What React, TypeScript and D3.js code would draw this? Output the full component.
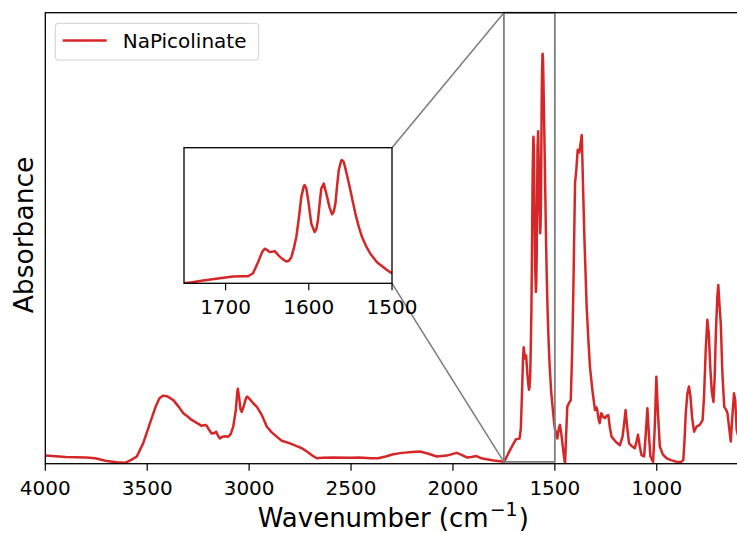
import React from "react";
import * as d3 from "d3";

const seriesName = "NaPicolinate";

const wavenumber = [
  4000, 3900, 3800, 3755, 3700, 3650, 3609, 3580, 3551, 3520, 3490, 3460, 3440, 3421, 3400, 3372, 3345, 3323, 3300, 3282,
  3255, 3233, 3215, 3208, 3195, 3184, 3170, 3162, 3150, 3143, 3130, 3118, 3102, 3090, 3078, 3065, 3058, 3055, 3050, 3042,
  3036, 3025, 3015, 3009, 2995, 2980, 2962, 2940, 2913, 2890, 2865, 2840, 2800, 2766, 2740, 2717, 2690, 2668, 2640, 2588,
  2500, 2464, 2400, 2367, 2330, 2293, 2250, 2200, 2162, 2120, 2080, 2030, 1982, 1960, 1933, 1910, 1884, 1860, 1835, 1800,
  1760, 1750, 1740, 1727, 1707, 1691, 1680, 1673, 1667, 1661, 1656, 1653, 1650, 1647, 1641, 1635, 1630, 1627, 1624, 1621,
  1618, 1615, 1612, 1609, 1606, 1605, 1603, 1601, 1597, 1593, 1591, 1589, 1587, 1585, 1582, 1578, 1575, 1572, 1570, 1568,
  1566, 1564, 1561, 1560, 1558, 1556, 1553, 1550, 1547, 1544, 1540, 1536, 1531, 1526, 1522, 1518, 1513, 1508, 1504, 1500,
  1494, 1488, 1480, 1475, 1468, 1461, 1455, 1450, 1445, 1439, 1430, 1422, 1415, 1409, 1401, 1395, 1388, 1380, 1368, 1362,
  1355, 1344, 1335, 1328, 1315, 1303, 1296, 1292, 1285, 1280, 1272, 1263, 1255, 1246, 1238, 1230, 1222, 1200, 1181, 1168,
  1160, 1153, 1145, 1136, 1120, 1108, 1100, 1092, 1084, 1075, 1062, 1055, 1046, 1038, 1031, 1018, 1010, 1002, 995, 985,
  970, 951, 930, 902, 880, 870, 864, 858, 850, 842, 835, 826, 817, 805, 789, 775, 768, 760, 752, 745,
  737, 730, 722, 716, 710, 703, 698, 692, 686, 678, 669, 660, 653, 645, 637, 630, 621, 615, 608, 600,
];

const absorbance = [
  0.018, 0.015, 0.014, 0.012, 0.006, 0.003, 0.002, 0.008, 0.016, 0.045, 0.085, 0.125, 0.145, 0.151, 0.149, 0.141, 0.126, 0.112, 0.104, 0.097,
  0.090, 0.084, 0.086, 0.084, 0.074, 0.067, 0.068, 0.071, 0.060, 0.056, 0.060, 0.061, 0.060, 0.066, 0.082, 0.120, 0.160, 0.166, 0.150, 0.120,
  0.115, 0.130, 0.146, 0.149, 0.142, 0.134, 0.126, 0.110, 0.082, 0.070, 0.060, 0.051, 0.045, 0.039, 0.034, 0.027, 0.018, 0.012, 0.013, 0.014,
  0.013, 0.014, 0.012, 0.012, 0.016, 0.021, 0.024, 0.026, 0.027, 0.022, 0.016, 0.018, 0.024, 0.020, 0.014, 0.015, 0.017, 0.012, 0.010, 0.007,
  0.005, 0.004, 0.012, 0.024, 0.041, 0.054, 0.055, 0.056, 0.078, 0.159, 0.235, 0.258, 0.248, 0.233, 0.240, 0.200, 0.175, 0.164, 0.170, 0.196,
  0.260, 0.344, 0.480, 0.639, 0.718, 0.725, 0.700, 0.627, 0.442, 0.381, 0.400, 0.467, 0.590, 0.700, 0.737, 0.639, 0.560, 0.511, 0.530, 0.590,
  0.720, 0.836, 0.905, 0.909, 0.895, 0.848, 0.770, 0.688, 0.600, 0.516, 0.420, 0.344, 0.275, 0.221, 0.190, 0.159, 0.135, 0.111, 0.093, 0.078,
  0.068, 0.056, 0.080, 0.086, 0.065, 0.038, 0.015, 0.000, 0.060, 0.126, 0.135, 0.141, 0.250, 0.392, 0.622, 0.650, 0.696, 0.690, 0.729, 0.620,
  0.500, 0.348, 0.270, 0.215, 0.160, 0.119, 0.125, 0.119, 0.098, 0.090, 0.112, 0.104, 0.101, 0.106, 0.108, 0.080, 0.060, 0.048, 0.041, 0.060,
  0.090, 0.119, 0.080, 0.045, 0.038, 0.034, 0.048, 0.064, 0.040, 0.019, 0.016, 0.060, 0.123, 0.060, 0.016, 0.004, 0.080, 0.193, 0.120, 0.038,
  0.020, 0.012, 0.008, 0.004, 0.004, 0.008, 0.050, 0.110, 0.155, 0.171, 0.150, 0.100, 0.071, 0.082, 0.086, 0.097, 0.150, 0.250, 0.319, 0.290,
  0.210, 0.160, 0.137, 0.190, 0.290, 0.370, 0.396, 0.350, 0.311, 0.200, 0.126, 0.120, 0.112, 0.080, 0.049, 0.100, 0.156, 0.140, 0.075, 0.060,
];

const mainTicks = [4000, 3500, 3000, 2500, 2000, 1500, 1000];
const insetTicks = [1700, 1600, 1500];
const mainDomainX = [4000, 600];
const mainDomainY = [0, 1];
const insetDomainX = [1750, 1500];
const insetDomainY = [0.004, 1.0];

const FONT = "DejaVu Sans";
const RED = "#d62728";
const GRAY = "#808080";

export default function App() {
  const W = 737;
  const H = 533;
  const m = { left: 45.3, right: 738.3, top: 12.7, bottom: 463.7 };
  const ins = { left: 184, right: 392, top: 147.7, bottom: 283.3 };

  const x = d3.scaleLinear().domain(mainDomainX).range([m.left, m.right]);
  const y = d3.scaleLinear().domain(mainDomainY).range([m.bottom, m.top]);
  const xi = d3.scaleLinear().domain(insetDomainX).range([ins.left, ins.right]);
  const yi = d3.scaleLinear().domain(insetDomainY).range([ins.bottom, ins.top]);

  const pts: [number, number][] = wavenumber.map((w, i) => [w, absorbance[i]]);
  const mainPath = d3.line<[number, number]>().x((d) => x(d[0])).y((d) => y(d[1]))(pts) || "";
  const insetPath =
    d3.line<[number, number]>().x((d) => xi(d[0])).y((d) => yi(d[1]))(
      pts.filter((d) => d[0] <= 1760 && d[0] >= 1494)
    ) || "";

  const rx0 = x(insetDomainX[0]);
  const rx1 = x(insetDomainX[1]);
  const ry0 = y(insetDomainY[1]);
  const ry1 = y(insetDomainY[0]);

  return (
    <svg
      width={W}
      height={H}
      style={{ position: "absolute", left: 0, top: 0, background: "#fff" }}
      fontFamily={FONT}
    >
      <defs>
        <clipPath id="mainClip">
          <rect x={m.left} y={m.top} width={m.right - m.left} height={m.bottom - m.top} />
        </clipPath>
        <clipPath id="insetClip">
          <rect x={ins.left} y={ins.top} width={ins.right - ins.left} height={ins.bottom - ins.top} />
        </clipPath>
      </defs>
      <rect x={0} y={0} width={W} height={H} fill="#fff" />

      <path d={mainPath} fill="none" stroke={RED} strokeWidth={2.5} strokeLinejoin="round" clipPath="url(#mainClip)" />

      <rect x={rx0} y={ry0} width={rx1 - rx0} height={ry1 - ry0} fill="none" stroke={GRAY} strokeWidth={1.8} />
      <line x1={ins.right} y1={ins.top} x2={rx0} y2={ry0} stroke={GRAY} strokeWidth={1.6} />
      <line x1={ins.right} y1={ins.bottom} x2={rx0} y2={ry1} stroke={GRAY} strokeWidth={1.6} />

      <rect x={m.left} y={m.top} width={m.right - m.left} height={m.bottom - m.top} fill="none" stroke="#000" strokeWidth={1.3} />
      {mainTicks.map((t) => (
        <g key={t}>
          <line x1={x(t)} x2={x(t)} y1={m.bottom} y2={m.bottom + 7} stroke="#000" strokeWidth={1.2} />
          <text x={x(t)} y={m.bottom + 31.5} textAnchor="middle" fontSize={20} fill="#000">
            {t}
          </text>
        </g>
      ))}

      <rect x={ins.left} y={ins.top} width={ins.right - ins.left} height={ins.bottom - ins.top} fill="#fff" />
      <path d={insetPath} fill="none" stroke={RED} strokeWidth={2.5} strokeLinejoin="round" clipPath="url(#insetClip)" />
      <rect x={ins.left} y={ins.top} width={ins.right - ins.left} height={ins.bottom - ins.top} fill="none" stroke="#000" strokeWidth={1.3} />
      {insetTicks.map((t) => (
        <g key={t}>
          <line x1={xi(t)} x2={xi(t)} y1={ins.bottom} y2={ins.bottom + 7} stroke="#000" strokeWidth={1.2} />
          <text x={xi(t)} y={ins.bottom + 30.5} textAnchor="middle" fontSize={20} fill="#000">
            {t}
          </text>
        </g>
      ))}

      <rect x={55.3} y={23.3} width={203.4} height={36.7} rx={3} fill="#fff" fillOpacity={0.8} stroke="#d0d0d0" strokeWidth={1} />
      <line x1={62.7} x2={106.7} y1={40.5} y2={40.5} stroke={RED} strokeWidth={2.5} />
      <text x={122.7} y={47.5} fontSize={20} fill="#000">
        {seriesName}
      </text>

      <text x={(m.left + m.right) / 2 + 1.5} y={527} textAnchor="middle" fontSize={26} fill="#000">
        Wavenumber (cm
        <tspan fontSize={19} dy={-11} dx={1}>
          −1
        </tspan>
        <tspan dy={11} dx={1}>)</tspan>
      </text>
      <text transform={`translate(33.3, 235) rotate(-90)`} textAnchor="middle" fontSize={26.5} fill="#000">
        Absorbance
      </text>
    </svg>
  );
}
